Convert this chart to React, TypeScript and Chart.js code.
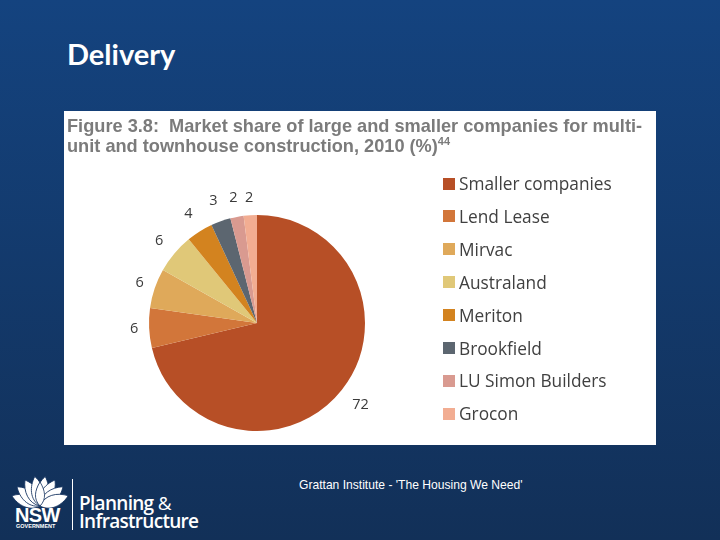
import { useEffect, useRef } from "react";
import { Chart, registerables } from "chart.js";

Chart.register(...registerables);

const companies = [
  "Smaller companies",
  "Lend Lease",
  "Mirvac",
  "Australand",
  "Meriton",
  "Brookfield",
  "LU Simon Builders",
  "Grocon",
];
const shares = [72, 6, 6, 6, 4, 3, 2, 2];
const colours = ["#b74f26", "#d2763a", "#dfa95a", "#e0c878", "#d3831f", "#5c6670", "#d99a90", "#f2ad92"];

// prints the share just outside each slice, gaps tuned by eye per slice
const labelGaps = [24, 15, 16, 20, 21, 22, 19, 17];
const sliceLabels = {
  id: "sliceLabels",
  afterDraw(chart: any) {
    const ctx = chart.ctx;
    const arcs = chart.getDatasetMeta(0).data;
    ctx.save();
    ctx.font = '14.5px "Open Sans"';
    ctx.fillStyle = "#3a3a3a";
    ctx.textAlign = "center";
    ctx.textBaseline = "middle";
    arcs.forEach((arc: any, i: number) => {
      const mid = (arc.startAngle + arc.endAngle) / 2;
      const r = arc.outerRadius + labelGaps[i];
      ctx.fillText(String(shares[i]), arc.x + Math.cos(mid) * r, arc.y + Math.sin(mid) * r);
    });
    ctx.restore();
  },
};

const petals = [-70, -50, -30, -10, 10, 30, 50, 70];

function Logo() {
  return (
    <div style={{ position: "absolute", left: 0, top: 465, width: 240, height: 75, color: "#fff" }}>
      <svg width="70" height="42" style={{ position: "absolute", left: 5, top: 3 }}>
        {petals.map((a) => (
          <path
            key={a}
            d="M35 38 C26 30 28 17 35 8 C42 17 44 30 35 38 Z"
            fill="#fff"
            stroke="#14325f"
            strokeWidth="0.8"
            transform={`rotate(${a} 35 38)`}
          />
        ))}
        <path d="M35 38 C28 31 30 22 35 14 C40 22 42 31 35 38 Z" fill="#fff" stroke="#14325f" strokeWidth="0.8" />
      </svg>
      <div style={{ position: "absolute", left: 15, top: 39, font: 'bold 20px "Liberation Sans"', letterSpacing: -0.6 }}>NSW</div>
      <div style={{ position: "absolute", left: 16, top: 58, font: 'bold 5.5px "Liberation Sans"' }}>GOVERNMENT</div>
      <div style={{ position: "absolute", left: 72, top: 14, width: 1, height: 51, background: "#fff" }} />
      <div style={{ position: "absolute", left: 79, top: 30, font: '600 19px/17.5px "Open Sans"', letterSpacing: -0.7, whiteSpace: "nowrap" }}>
        Planning <span style={{ fontWeight: 400 }}>&amp;</span>
        <br />
        Infrastructure
      </div>
    </div>
  );
}

export default function App() {
  const canvasRef = useRef<HTMLCanvasElement | null>(null);

  useEffect(() => {
    document.body.style.margin = "0";
    const chart = new Chart(canvasRef.current!, {
      type: "pie",
      data: {
        labels: companies,
        datasets: [{ data: shares, backgroundColor: colours, borderWidth: 0 }],
      },
      options: {
        responsive: false,
        animation: false,
        layout: { padding: { left: 85, right: 291, top: 104, bottom: 14 } },
        plugins: { legend: { display: false }, tooltip: { enabled: false } },
      },
      plugins: [sliceLabels],
    });
    return () => chart.destroy();
  }, []);

  return (
    <div
      style={{
        position: "relative",
        width: 720,
        height: 540,
        overflow: "hidden",
        background: "linear-gradient(#14437f, #123058)",
      }}
    >
      <div style={{ position: "absolute", left: 67, top: 36, color: "#fff", font: 'bold 29px Lato' }}>Delivery</div>
      <div style={{ position: "absolute", left: 64, top: 111, width: 592, height: 334, background: "#fff" }}>
        <canvas ref={canvasRef} width={592} height={334} style={{ position: "absolute", left: 0, top: 0 }} />
        <div
          style={{
            position: "absolute",
            left: 3,
            top: 5,
            font: 'bold 18.2px/20px "Liberation Sans"',
            color: "#7b7b7b",
            whiteSpace: "nowrap",
          }}
        >
          Figure 3.8:&nbsp; Market share of large and smaller companies for multi-
          <br />
          unit and townhouse construction, 2010 (%)
          <sup style={{ fontSize: 11, lineHeight: 0 }}>44</sup>
        </div>
        {companies.map((name, i) => (
          <div key={name} style={{ position: "absolute", left: 379, top: 59.5 + i * 32.9, height: 26, display: "flex", alignItems: "center" }}>
            <span style={{ width: 12, height: 12, marginRight: 4, background: colours[i] }} />
            <span style={{ font: '17.3px "Open Sans"', color: "#404040", whiteSpace: "nowrap" }}>{name}</span>
          </div>
        ))}
      </div>
      <div style={{ position: "absolute", left: 299, top: 478, color: "#fff", font: '12.1px "Liberation Sans"', whiteSpace: "nowrap" }}>
        Grattan Institute - 'The Housing We Need'
      </div>
      <Logo />
    </div>
  );
}
